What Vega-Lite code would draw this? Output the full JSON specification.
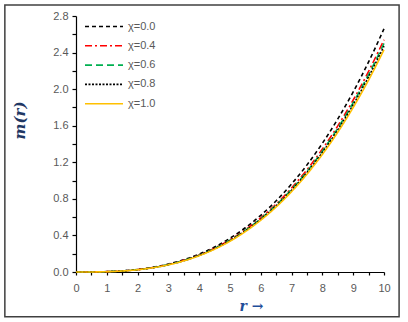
{
  "$schema": "https://vega.github.io/schema/vega-lite/v6.json",
  "width": 308,
  "height": 256,
  "autosize": {"type": "none"},
  "padding": {"left": 76, "top": 16, "right": 24, "bottom": 50},
  "background": "white",
  "config": {
    "view": {"stroke": null},
    "font": "Liberation Sans",
    "axis": {
      "labelOverlap": false, "labelFlush": false, "grid": false,
      "domainColor": "#000000", "domainWidth": 1.2, "tickColor": "#000000", "tickWidth": 1.2,
      "labelColor": "#595959", "labelFontSize": 11,
      "titleColor": "#1F3864", "titleFont": "DejaVu Serif", "titleFontStyle": "italic", "titleFontWeight": "bold"
    },
    "axisX": {"tickSize": 3, "labelPadding": 7, "titleFontSize": 14, "titleColor": "#1F4E9A", "titleX": 175, "titleY": 34, "titleBaseline": "middle"},
    "axisY": {"tickSize": 4, "labelPadding": 4, "titleFontSize": 15, "titleX": -57, "titleY": 104, "titleBaseline": "middle", "titleAngle": -90}
  },
  "datasets": {
    "frame": [{"x1": -2.31, "x2": 10.49, "y1": -0.49, "y2": 2.92}],
    "curves": [
      {"s": "χ=0.0", "r": 0, "m": 0}, {"s": "χ=0.0", "r": 0.5, "m": 0.0005}, {"s": "χ=0.0", "r": 1, "m": 0.0038}, {"s": "χ=0.0", "r": 1.5, "m": 0.0119}, {"s": "χ=0.0", "r": 2, "m": 0.0271}, {"s": "χ=0.0", "r": 2.5, "m": 0.0512}, {"s": "χ=0.0", "r": 3, "m": 0.0861}, {"s": "χ=0.0", "r": 3.5, "m": 0.1335}, {"s": "χ=0.0", "r": 4, "m": 0.1952}, {"s": "χ=0.0", "r": 4.5, "m": 0.2732}, {"s": "χ=0.0", "r": 5, "m": 0.3689}, {"s": "χ=0.0", "r": 5.5, "m": 0.4841}, {"s": "χ=0.0", "r": 6, "m": 0.6203}, {"s": "χ=0.0", "r": 6.5, "m": 0.7791}, {"s": "χ=0.0", "r": 7, "m": 0.9627}, {"s": "χ=0.0", "r": 7.5, "m": 1.1715}, {"s": "χ=0.0", "r": 8, "m": 1.4082}, {"s": "χ=0.0", "r": 8.5, "m": 1.6739}, {"s": "χ=0.0", "r": 9, "m": 1.97}, {"s": "χ=0.0", "r": 9.5, "m": 2.2982}, {"s": "χ=0.0", "r": 10, "m": 2.66},
      {"s": "χ=0.4", "r": 0, "m": 0}, {"s": "χ=0.4", "r": 0.5, "m": 0.0005}, {"s": "χ=0.4", "r": 1, "m": 0.0036}, {"s": "χ=0.4", "r": 1.5, "m": 0.0114}, {"s": "χ=0.4", "r": 2, "m": 0.0259}, {"s": "χ=0.4", "r": 2.5, "m": 0.0489}, {"s": "χ=0.4", "r": 3, "m": 0.0822}, {"s": "χ=0.4", "r": 3.5, "m": 0.1275}, {"s": "χ=0.4", "r": 4, "m": 0.1864}, {"s": "χ=0.4", "r": 4.5, "m": 0.2609}, {"s": "χ=0.4", "r": 5, "m": 0.3523}, {"s": "χ=0.4", "r": 5.5, "m": 0.4623}, {"s": "χ=0.4", "r": 6, "m": 0.5923}, {"s": "χ=0.4", "r": 6.5, "m": 0.744}, {"s": "χ=0.4", "r": 7, "m": 0.9192}, {"s": "χ=0.4", "r": 7.5, "m": 1.1186}, {"s": "χ=0.4", "r": 8, "m": 1.3447}, {"s": "χ=0.4", "r": 8.5, "m": 1.5984}, {"s": "χ=0.4", "r": 9, "m": 1.8811}, {"s": "χ=0.4", "r": 9.5, "m": 2.1946}, {"s": "χ=0.4", "r": 10, "m": 2.54},
      {"s": "χ=0.6", "r": 0, "m": 0}, {"s": "χ=0.6", "r": 0.5, "m": 0.0005}, {"s": "χ=0.6", "r": 1, "m": 0.0035}, {"s": "χ=0.6", "r": 1.5, "m": 0.0112}, {"s": "χ=0.6", "r": 2, "m": 0.0255}, {"s": "χ=0.6", "r": 2.5, "m": 0.0481}, {"s": "χ=0.6", "r": 3, "m": 0.0809}, {"s": "χ=0.6", "r": 3.5, "m": 0.1255}, {"s": "χ=0.6", "r": 4, "m": 0.1835}, {"s": "χ=0.6", "r": 4.5, "m": 0.2568}, {"s": "χ=0.6", "r": 5, "m": 0.3468}, {"s": "χ=0.6", "r": 5.5, "m": 0.455}, {"s": "χ=0.6", "r": 6, "m": 0.583}, {"s": "χ=0.6", "r": 6.5, "m": 0.7323}, {"s": "χ=0.6", "r": 7, "m": 0.9048}, {"s": "χ=0.6", "r": 7.5, "m": 1.101}, {"s": "χ=0.6", "r": 8, "m": 1.3235}, {"s": "χ=0.6", "r": 8.5, "m": 1.5733}, {"s": "χ=0.6", "r": 9, "m": 1.8515}, {"s": "χ=0.6", "r": 9.5, "m": 2.16}, {"s": "χ=0.6", "r": 10, "m": 2.5},
      {"s": "χ=0.8", "r": 0, "m": 0}, {"s": "χ=0.8", "r": 0.5, "m": 0.0005}, {"s": "χ=0.8", "r": 1, "m": 0.0035}, {"s": "χ=0.8", "r": 1.5, "m": 0.0111}, {"s": "χ=0.8", "r": 2, "m": 0.0252}, {"s": "χ=0.8", "r": 2.5, "m": 0.0475}, {"s": "χ=0.8", "r": 3, "m": 0.0799}, {"s": "χ=0.8", "r": 3.5, "m": 0.124}, {"s": "χ=0.8", "r": 4, "m": 0.1813}, {"s": "χ=0.8", "r": 4.5, "m": 0.2537}, {"s": "χ=0.8", "r": 5, "m": 0.3426}, {"s": "χ=0.8", "r": 5.5, "m": 0.4495}, {"s": "χ=0.8", "r": 6, "m": 0.576}, {"s": "χ=0.8", "r": 6.5, "m": 0.7235}, {"s": "χ=0.8", "r": 7, "m": 0.8939}, {"s": "χ=0.8", "r": 7.5, "m": 1.0878}, {"s": "χ=0.8", "r": 8, "m": 1.3076}, {"s": "χ=0.8", "r": 8.5, "m": 1.5544}, {"s": "χ=0.8", "r": 9, "m": 1.8293}, {"s": "χ=0.8", "r": 9.5, "m": 2.1341}, {"s": "χ=0.8", "r": 10, "m": 2.47},
      {"s": "χ=1.0", "r": 0, "m": 0}, {"s": "χ=1.0", "r": 0.5, "m": 0.0005}, {"s": "χ=1.0", "r": 1, "m": 0.0034}, {"s": "χ=1.0", "r": 1.5, "m": 0.0109}, {"s": "χ=1.0", "r": 2, "m": 0.0248}, {"s": "χ=1.0", "r": 2.5, "m": 0.0468}, {"s": "χ=1.0", "r": 3, "m": 0.0786}, {"s": "χ=1.0", "r": 3.5, "m": 0.122}, {"s": "χ=1.0", "r": 4, "m": 0.1784}, {"s": "χ=1.0", "r": 4.5, "m": 0.2496}, {"s": "χ=1.0", "r": 5, "m": 0.337}, {"s": "χ=1.0", "r": 5.5, "m": 0.4423}, {"s": "χ=1.0", "r": 6, "m": 0.5667}, {"s": "χ=1.0", "r": 6.5, "m": 0.7117}, {"s": "χ=1.0", "r": 7, "m": 0.8794}, {"s": "χ=1.0", "r": 7.5, "m": 1.0702}, {"s": "χ=1.0", "r": 8, "m": 1.2864}, {"s": "χ=1.0", "r": 8.5, "m": 1.5292}, {"s": "χ=1.0", "r": 9, "m": 1.7997}, {"s": "χ=1.0", "r": 9.5, "m": 2.0995}, {"s": "χ=1.0", "r": 10, "m": 2.43}
    ]
  },
  "layer": [
    {
      "data": {"name": "frame"},
      "mark": {"type": "rect", "fill": null, "stroke": "#404040", "strokeWidth": 1.5},
      "encoding": {
        "x": {"field": "x1", "type": "quantitative", "title": "r →", "scale": {"domain": [0, 10], "nice": false},
          "axis": {"values": [0,0.5,1,1.5,2,2.5,3,3.5,4,4.5,5,5.5,6,6.5,7,7.5,8,8.5,9,9.5,10], "labelExpr": "datum.value % 1 == 0 ? format(datum.value, 'd') : ''"}},
        "x2": {"field": "x2"},
        "y": {"field": "y1", "type": "quantitative", "title": "m(r)", "scale": {"domain": [0, 2.8], "nice": false},
          "axis": {"values": [0,0.2,0.4,0.6,0.8,1.0,1.2,1.4,1.6,1.8,2.0,2.2,2.4,2.6,2.8], "labelExpr": "round(datum.value*10) % 4 == 0 ? format(datum.value, '.1f') : ''"}},
        "y2": {"field": "y2"}
      }
    },
    {
      "data": {"name": "curves"},
      "mark": {"type": "line", "strokeWidth": 1.6, "interpolate": "monotone"},
      "encoding": {
        "x": {
          "field": "r", "type": "quantitative", "title": "r →",
          "scale": {"domain": [0, 10], "nice": false},
          "axis": {"values": [0,0.5,1,1.5,2,2.5,3,3.5,4,4.5,5,5.5,6,6.5,7,7.5,8,8.5,9,9.5,10], "labelExpr": "datum.value % 1 == 0 ? format(datum.value, 'd') : ''"}
        },
        "y": {
          "field": "m", "type": "quantitative", "title": "m(r)",
          "scale": {"domain": [0, 2.8], "nice": false},
          "axis": {"values": [0,0.2,0.4,0.6,0.8,1.0,1.2,1.4,1.6,1.8,2.0,2.2,2.4,2.6,2.8], "labelExpr": "round(datum.value*10) % 4 == 0 ? format(datum.value, '.1f') : ''"}
        },
        "color": {
          "field": "s", "type": "nominal",
          "scale": {"domain": ["χ=0.0", "χ=0.4", "χ=0.6", "χ=0.8", "χ=1.0"], "range": ["#000000", "#FF0000", "#00B050", "#000000", "#FFC000"]},
          "legend": {
            "title": null, "orient": "none", "legendX": 8, "legendY": 5,
            "symbolType": "stroke", "symbolSize": 1444, "symbolStrokeWidth": 1.6, "clipHeight": 11,
            "labelFontSize": 11, "labelColor": "#595959", "labelOffset": 4, "rowPadding": 7.3
          }
        },
        "strokeDash": {
          "field": "s", "type": "nominal",
          "scale": {"domain": ["χ=0.0", "χ=0.4", "χ=0.6", "χ=0.8", "χ=1.0"], "range": [[4, 3], [7, 3, 2, 3], [7, 4], [2, 1.5], [1, 0]]}
        },
        "order": {"field": "s", "sort": "descending"}
      }
    }
  ]
}
